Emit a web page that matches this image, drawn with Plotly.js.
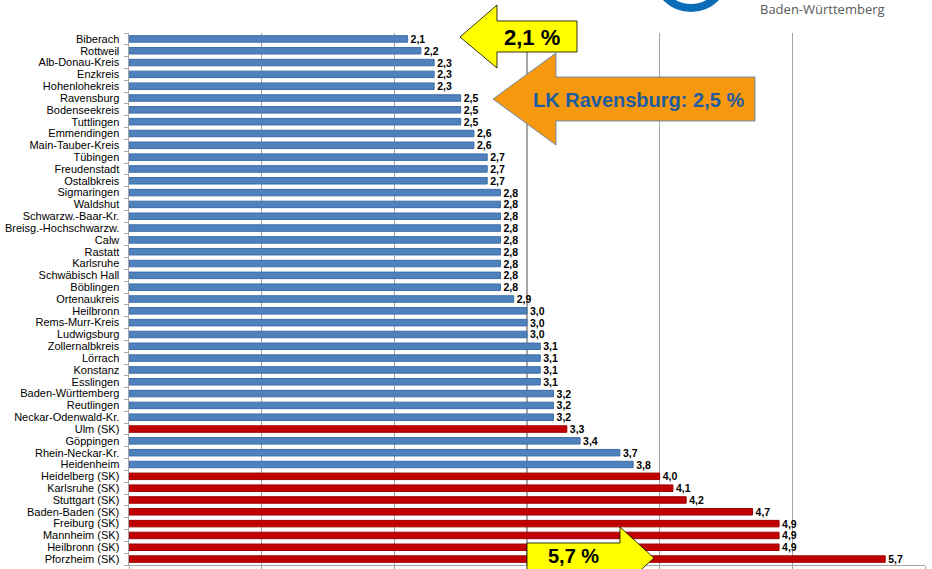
<!DOCTYPE html>
<html>
<head>
<meta charset="utf-8">
<script src="https://cdn.plot.ly/plotly-3.0.1.min.js"></script>
<style>
  html, body { margin: 0; padding: 0; background: #fff; }
  #chart { width: 932px; height: 569px; }
</style>
</head>
<body>
<div id="chart"></div>
<script>
// Arbeitslosenquote nach Stadt- und Landkreisen (in %)
const regions = [
  "Biberach", "Rottweil", "Alb-Donau-Kreis", "Enzkreis", "Hohenlohekreis",
  "Ravensburg", "Bodenseekreis", "Tuttlingen", "Emmendingen", "Main-Tauber-Kreis",
  "Tübingen", "Freudenstadt", "Ostalbkreis", "Sigmaringen", "Waldshut",
  "Schwarzw.-Baar-Kr.", "Breisg.-Hochschwarzw.", "Calw", "Rastatt", "Karlsruhe",
  "Schwäbisch Hall", "Böblingen", "Ortenaukreis", "Heilbronn", "Rems-Murr-Kreis",
  "Ludwigsburg", "Zollernalbkreis", "Lörrach", "Konstanz", "Esslingen",
  "Baden-Württemberg", "Reutlingen", "Neckar-Odenwald-Kr.", "Ulm (SK)", "Göppingen",
  "Rhein-Neckar-Kr.", "Heidenheim", "Heidelberg (SK)", "Karlsruhe (SK)", "Stuttgart (SK)",
  "Baden-Baden (SK)", "Freiburg (SK)", "Mannheim (SK)", "Heilbronn (SK)", "Pforzheim (SK)"
];
const rates = [
  2.1, 2.2, 2.3, 2.3, 2.3,
  2.5, 2.5, 2.5, 2.6, 2.6,
  2.7, 2.7, 2.7, 2.8, 2.8,
  2.8, 2.8, 2.8, 2.8, 2.8,
  2.8, 2.8, 2.9, 3.0, 3.0,
  3.0, 3.1, 3.1, 3.1, 3.1,
  3.2, 3.2, 3.2, 3.3, 3.4,
  3.7, 3.8, 4.0, 4.1, 4.2,
  4.7, 4.9, 4.9, 4.9, 5.7
];
const rateLabels = rates.map(v => v.toFixed(1).replace('.', ','));

// Stadtkreise (SK) rot, Landkreise und Land blau
const BLUE = '#4F81BD', BLUE_EDGE = '#3C6DA8';
const RED = '#C00000', RED_EDGE = '#A00000';
const isCity = regions.map(r => r.indexOf('(SK)') >= 0);

// Plot area in pixels, used to place the callout arrows
const W = 932, H = 569;
const M = { l: 129, r: 7, t: 33, b: 4 };
const PX0 = M.l, PX1 = W - M.r, PY0 = M.t, PY1 = H - M.b;
const px = x => (x - PX0) / (PX1 - PX0);
const py = y => (PY1 - y) / (PY1 - PY0);
const path = pts => pts.map((p, i) => (i ? 'L' : 'M') + px(p[0]).toFixed(4) + ',' + py(p[1]).toFixed(4)).join(' ') + ' Z';

const arrowTop = path([[460, 37], [497, 5], [497, 21], [577, 21], [577, 52], [497, 52], [497, 68]]);
const arrowRav = path([[493, 99], [556, 53], [556, 77], [755, 77], [755, 121], [556, 121], [556, 145]]);
const arrowBottom = path([[527, 543], [620, 543], [620, 527], [654, 558], [620, 589], [620, 573], [527, 573]]);

const trace = {
  type: 'bar',
  orientation: 'h',
  y: regions,
  x: rates,
  text: rateLabels,
  textposition: 'outside',
  texttemplate: '%{text}',
  constraintext: 'none',
  cliponaxis: false,
  textfont: { family: 'Liberation Sans, Arial, sans-serif', size: 10.5, color: '#000', weight: 'bold' },
  marker: {
    color: isCity.map(c => c ? RED : BLUE),
    line: { color: isCity.map(c => c ? RED_EDGE : BLUE_EDGE), width: 1 }
  },
  hoverinfo: 'skip'
};

const layout = {
  width: W,
  height: H,
  margin: M,
  paper_bgcolor: '#fff',
  plot_bgcolor: '#fff',
  showlegend: false,
  bargap: 0.45,
  font: { family: 'Liberation Sans, Arial, sans-serif', size: 11, color: '#000' },
  xaxis: {
    range: [0, 6],
    dtick: 1,
    showgrid: true,
    gridcolor: '#A6A6A6',
    gridwidth: 1.5,
    zeroline: false,
    showline: true,
    linecolor: '#A6A6A6',
    linewidth: 1,
    mirror: false,
    ticks: 'outside',
    ticklen: 4,
    tickcolor: '#A6A6A6',
    showticklabels: false,
    fixedrange: true
  },
  yaxis: {
    type: 'category',
    autorange: 'reversed',
    tickmode: 'array',
    tickvals: regions,
    ticktext: regions,
    showline: true,
    linecolor: '#A6A6A6',
    linewidth: 1.5,
    ticks: 'outside',
    tickson: 'boundaries',
    ticklen: 4,
    tickcolor: '#A6A6A6',
    ticklabelstandoff: 6,
    tickfont: { family: 'Liberation Sans, Arial, sans-serif', size: 11, color: '#000' },
    showgrid: false,
    fixedrange: true
  },
  shapes: [
    // Landeswappen-Ring (angeschnitten)
    { type: 'circle', xref: 'paper', yref: 'paper',
      x0: px(657), x1: px(725), y0: py(-58), y1: py(8),
      line: { color: '#0B6DB7', width: 8 }, fillcolor: '#fff', layer: 'above' },
    { type: 'path', xref: 'paper', yref: 'paper', path: arrowTop,
      fillcolor: '#FFFF00', line: { color: '#000', width: 0.8 }, layer: 'above' },
    { type: 'path', xref: 'paper', yref: 'paper', path: arrowRav,
      fillcolor: '#F7990F', line: { color: '#4A7EBB', width: 0.8 }, layer: 'above' },
    { type: 'path', xref: 'paper', yref: 'paper', path: arrowBottom,
      fillcolor: '#FFFF00', line: { color: '#000', width: 0.8 }, layer: 'above' }
  ],
  annotations: [
    { xref: 'paper', yref: 'paper', x: px(759), y: py(9), xanchor: 'left', yanchor: 'middle',
      text: 'Baden-Württemberg', showarrow: false, borderpad: 0,
      font: { family: 'Open Sans, Noto Sans, sans-serif', size: 13, color: '#5A5A5A' } },
    { xref: 'paper', yref: 'paper', x: px(532), y: py(37), xanchor: 'center', yanchor: 'middle',
      text: '<b>2,1 %</b>', showarrow: false,
      font: { family: 'Liberation Sans, Arial, sans-serif', size: 22, color: '#000' } },
    { xref: 'paper', yref: 'paper', x: px(638), y: py(100), xanchor: 'center', yanchor: 'middle',
      text: '<b>LK Ravensburg: 2,5 %</b>', showarrow: false,
      font: { family: 'Liberation Sans, Arial, sans-serif', size: 20, color: '#1F5C9E' } },
    { xref: 'paper', yref: 'paper', x: px(573), y: py(556), xanchor: 'center', yanchor: 'middle',
      text: '<b>5,7 %</b>', showarrow: false,
      font: { family: 'Liberation Sans, Arial, sans-serif', size: 20, color: '#000' } }
  ]
};

Plotly.newPlot('chart', [trace], layout, { displayModeBar: false, staticPlot: true });
</script>
</body>
</html>
